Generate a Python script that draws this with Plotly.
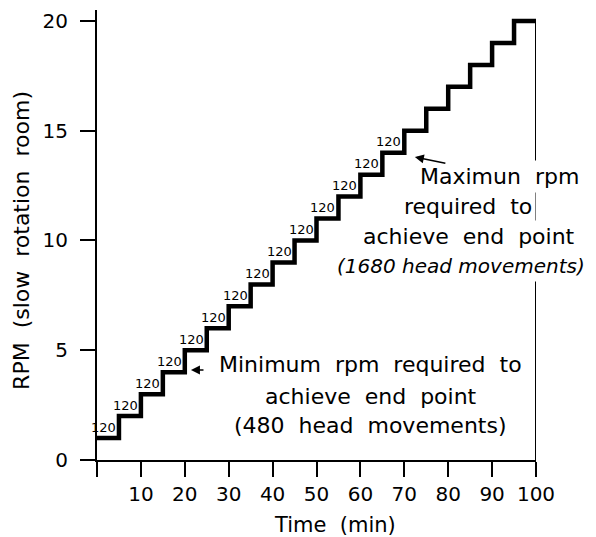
import plotly.graph_objects as go

# ---- data ----
step_start = [0, 5, 10, 15, 20, 25, 30, 35, 40, 45, 50, 55, 60, 65, 70, 75, 80, 85, 90, 95]
rpm = [1, 2, 3, 4, 5, 6, 7, 8, 9, 10, 11, 12, 13, 14, 15, 16, 17, 18, 19, 20]
end_time = 100
labelled_steps = 14          # steps carrying the "120" head-movement label
step_label = "120"
x_ticks = [0, 10, 20, 30, 40, 50, 60, 70, 80, 90, 100]
x_tick_text = ["", "10", "20", "30", "40", "50", "60", "70", "80", "90", "100"]
y_ticks = [0, 5, 10, 15, 20]
x_title = "Time (min)"
y_title = "RPM (slow rotation room)"

# annotation anchors (data units): [head_x, head_y, tail_x, tail_y]
min_arrow = [21.4, 4.1, 24.6, 4.1]
max_arrow = [72.4, 13.8, 79.7, 13.5]
min_lines = ["Minimum rpm required to", "achieve end point", "(480 head movements)"]
min_line_pos = [(62.4, 4.33), (62.3, 2.9), (62.3, 1.55)]
max_lines = ["Maximun rpm", "required to", "achieve end point", "(1680 head movements)"]
max_line_pos = [(91.6, 12.9), (84.4, 11.55), (84.8, 10.2), (83.0, 8.85)]

FONT = "DejaVu Sans"
NB = "\u00a0"


def spaced(s):
    return s.replace(" ", NB + NB)


end_times = step_start[1:] + [end_time]

fig = go.Figure()
fig.add_trace(go.Scatter(
    x=step_start + [end_time], y=rpm + [rpm[-1]],
    mode="lines", line=dict(color="black", width=4.5, shape="hv"),
    cliponaxis=False, showlegend=False, hoverinfo="skip"))
fig.add_trace(go.Scatter(
    x=[end_time, end_time], y=[rpm[-1], 0],
    mode="lines", line=dict(color="black", width=2),
    cliponaxis=False, showlegend=False, hoverinfo="skip"))

annotations = []
for k in range(labelled_steps):
    annotations.append(dict(
        x=end_times[k], y=rpm[k], xref="x", yref="y", text=step_label,
        showarrow=False, xanchor="right", yanchor="middle", xshift=-1, yshift=11,
        font=dict(family=FONT, size=13, color="black")))

for txt, (px, py) in zip(min_lines, min_line_pos):
    annotations.append(dict(
        x=px, y=py, xref="x", yref="y", text=spaced(txt), showarrow=False,
        xanchor="center", yanchor="middle",
        font=dict(family=FONT, size=22, color="black")))
for i, (txt, (px, py)) in enumerate(zip(max_lines, max_line_pos)):
    last = i == len(max_lines) - 1
    annotations.append(dict(
        x=px, y=py, xref="x", yref="y",
        text=txt.replace(" ", NB) if last else spaced(txt), showarrow=False,
        xanchor="center", yanchor="middle", bgcolor="white", borderpad=3,
        font=dict(family=FONT, size=20 if last else 22, color="black",
                  style="italic" if last else "normal")))

for hx, hy, tx, ty in (min_arrow, max_arrow):
    annotations.append(dict(
        x=hx, y=hy, ax=tx, ay=ty, xref="x", yref="y", axref="x", ayref="y",
        text="", showarrow=True, arrowhead=2, arrowsize=1.2, arrowwidth=1.5,
        arrowcolor="black"))

# axis titles placed as paper-anchored texts
annotations.append(dict(
    x=0.542, y=-0.144, xref="paper", yref="paper", text=spaced(x_title),
    showarrow=False, xanchor="center", yanchor="middle",
    font=dict(family=FONT, size=21, color="black")))
annotations.append(dict(
    x=-0.171, y=0.489, xref="paper", yref="paper", text=spaced(y_title),
    showarrow=False, xanchor="center", yanchor="middle", textangle=-90,
    font=dict(family=FONT, size=22, color="black")))

axis_common = dict(
    showline=True, linecolor="black", linewidth=2, ticks="outside", ticklen=15,
    tickwidth=2, tickcolor="black", showgrid=False, zeroline=False,
    tickfont=dict(family=FONT, size=20, color="black"))

fig.update_layout(
    width=596, height=537,
    margin=dict(l=97, r=60, t=10, b=77),
    paper_bgcolor="white", plot_bgcolor="white",
    xaxis=dict(range=[0, end_time], tickvals=x_ticks, ticktext=x_tick_text,
               **axis_common),
    yaxis=dict(range=[0, 20.5], tickvals=y_ticks, ticklabelstandoff=8,
               **axis_common),
    annotations=annotations,
)

fig.write_html("out.html")
